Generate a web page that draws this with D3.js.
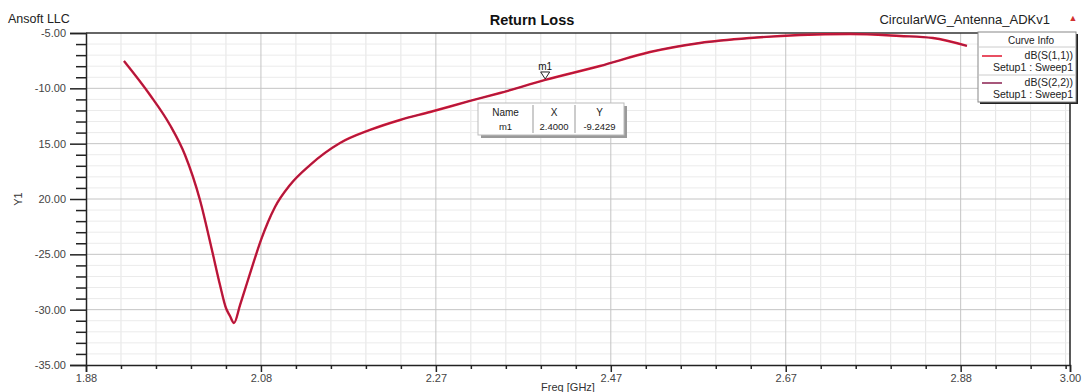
<!DOCTYPE html>
<html>
<head>
<meta charset="utf-8">
<script src="https://cdn.jsdelivr.net/npm/d3@7"></script>
<style>
  html, body { margin: 0; padding: 0; background: #fff; }
  svg { display: block; font-family: "Liberation Sans", Arial, sans-serif; }
</style>
</head>
<body>
<svg id="chart" width="1085" height="392"></svg>
<script>
// Sweep frequencies (GHz) and return loss (dB)
const freqGHz = [1.9184, 1.9482, 1.9710, 1.9882, 2.0053, 2.0190, 2.0282, 2.0350, 2.0396, 2.0442,
  2.0511, 2.0591, 2.0671, 2.0751, 2.0831, 2.0911, 2.1082, 2.1311, 2.1654, 2.1997, 2.2340, 2.2683,
  2.3140, 2.3483, 2.4000, 2.4626, 2.5198, 2.5770, 2.6341, 2.6913, 2.7485, 2.8056, 2.8433, 2.8822];
const s11Db = [-7.53, -10.60, -13.31, -16.02, -20.09, -24.61, -27.77, -29.85, -30.57, -31.20,
  -29.58, -27.59, -25.60, -23.70, -22.08, -20.72, -18.73, -16.93, -14.94, -13.76, -12.86, -12.14,
  -11.14, -10.42, -9.2429, -7.98, -6.72, -5.90, -5.45, -5.18, -5.09, -5.27, -5.45, -6.17];
const s22Db = [-7.53, -10.60, -13.31, -16.02, -20.09, -24.61, -27.77, -29.85, -30.57, -31.20,
  -29.58, -27.59, -25.60, -23.70, -22.08, -20.72, -18.73, -16.93, -14.94, -13.76, -12.86, -12.14,
  -11.14, -10.42, -9.2429, -7.98, -6.72, -5.90, -5.45, -5.18, -5.09, -5.27, -5.45, -6.17];

// Axis ticks
const xTickValues = [1.875, 2.075, 2.275, 2.475, 2.675, 2.875, 3.0];
const xTickLabels = ["1.88", "2.08", "2.27", "2.47", "2.67", "2.88", "3.00"];
const yTickValues = [-5, -10, -15, -20, -25, -30, -35];
const yTickLabels = ["-5.00", "-10.00", "15.00", "20.00", "-25.00", "-30.00", "-35.00"];

// Marker
const markerName = "m1";
const markerX = 2.4;
const markerY = -9.2429;

const seriesNames = ["dB(S(1,1))", "dB(S(2,2))"];
const seriesSetup = ["Setup1 : Sweep1", "Setup1 : Sweep1"];
const seriesColors = ["#e0142e", "#8a1f4f"];

const svg = d3.select("#chart");
const margin = { left: 86, right: 15, top: 33, bottom: 27 };
const W = 1085, H = 392;
const x = d3.scaleLinear().domain([1.875, 3.0]).range([margin.left, W - margin.right]);
const y = d3.scaleLinear().domain([-35, -5]).range([H - margin.bottom, margin.top]);

const x0 = x.range()[0], x1 = x.range()[1];
const y0 = y.range()[0], y1 = y.range()[1];

// Minor tick positions
const xMinor = [];
for (let i = 0; i < xTickValues.length - 1; i++) {
  const a = xTickValues[i], b = xTickValues[i + 1];
  const step = 0.04;
  for (let v = a + step; v < b - 1e-6; v += step) xMinor.push(v);
}
const yMinor = d3.range(-34, -5).filter(v => v % 5 !== 0);

// Grid
const grid = svg.append("g");
grid.selectAll("line.xm").data(xMinor).join("line")
  .attr("x1", d => x(d)).attr("x2", d => x(d)).attr("y1", y1).attr("y2", y0)
  .attr("stroke", "#e4e4e4").attr("stroke-width", 1);
grid.selectAll("line.ym").data(yMinor).join("line")
  .attr("x1", x0).attr("x2", x1).attr("y1", d => y(d)).attr("y2", d => y(d))
  .attr("stroke", "#ebebeb").attr("stroke-width", 1);
grid.selectAll("line.xM").data(xTickValues.slice(1, -1)).join("line")
  .attr("x1", d => x(d)).attr("x2", d => x(d)).attr("y1", y1).attr("y2", y0)
  .attr("stroke", "#c4c4c4").attr("stroke-width", 1);
grid.selectAll("line.yM").data(yTickValues.slice(1, -1)).join("line")
  .attr("x1", x0).attr("x2", x1).attr("y1", d => y(d)).attr("y2", d => y(d))
  .attr("stroke", "#c4c4c4").attr("stroke-width", 1);

// Axes
const xAxis = d3.axisBottom(x).tickValues(xTickValues)
  .tickFormat((d, i) => xTickLabels[i]).tickSize(7).tickPadding(2);
const gx = svg.append("g").attr("transform", `translate(0,${y0})`).call(xAxis);
gx.select(".domain").attr("stroke", "#222").attr("stroke-width", 1.5);
gx.selectAll(".tick line").attr("stroke", "#222").attr("stroke-width", 1.5);
gx.selectAll(".tick text").attr("font-size", 11).attr("fill", "#444")
  .attr("font-family", "'Liberation Sans', Arial, sans-serif");

const xAxisMinor = d3.axisBottom(x).tickValues(xMinor).tickFormat("").tickSize(4);
const gxm = svg.append("g").attr("transform", `translate(0,${y0})`).call(xAxisMinor);
gxm.select(".domain").remove();
gxm.selectAll(".tick line").attr("stroke", "#222").attr("stroke-width", 1.5);

const yAxis = d3.axisLeft(y).tickValues(yTickValues)
  .tickFormat((d, i) => yTickLabels[i]).tickSize(16).tickPadding(4);
const gy = svg.append("g").attr("transform", `translate(${x0},0)`).call(yAxis);
gy.select(".domain").attr("stroke", "#222").attr("stroke-width", 1.5);
gy.selectAll(".tick line").attr("stroke", "#222").attr("stroke-width", 1.5);
gy.selectAll(".tick text").attr("font-size", 11).attr("fill", "#444")
  .attr("font-family", "'Liberation Sans', Arial, sans-serif");

const yAxisMinor = d3.axisLeft(y).tickValues(yMinor).tickFormat("").tickSize(10);
const gym = svg.append("g").attr("transform", `translate(${x0},0)`).call(yAxisMinor);
gym.select(".domain").remove();
gym.selectAll(".tick line").attr("stroke", "#222").attr("stroke-width", 1.5);

// Top and right frame
svg.append("line").attr("x1", x0).attr("x2", x1).attr("y1", y1).attr("y2", y1)
  .attr("stroke", "#333").attr("stroke-width", 1.5);
svg.append("line").attr("x1", x1).attr("x2", x1).attr("y1", y1).attr("y2", y0)
  .attr("stroke", "#222").attr("stroke-width", 1.5);

// Curves
const line = d3.line().curve(d3.curveMonotoneX);
const s11Pts = freqGHz.map((f, i) => [x(f), y(s11Db[i])]);
const s22Pts = freqGHz.map((f, i) => [x(f), y(s22Db[i])]);
svg.append("path").attr("d", line(s11Pts)).attr("fill", "none")
  .attr("stroke", seriesColors[0]).attr("stroke-width", 2.4).attr("stroke-linejoin", "round");
svg.append("path").attr("d", line(s22Pts)).attr("fill", "none")
  .attr("stroke", seriesColors[1]).attr("stroke-width", 1.2).attr("stroke-opacity", 0.75)
  .attr("stroke-linejoin", "round");

// Marker triangle and label
const mx = x(markerX), my = y(markerY);
svg.append("path")
  .attr("d", `M${mx - 4.5},${my - 8} L${mx + 4.5},${my - 8} L${mx},${my - 1} Z`)
  .attr("fill", "#fff").attr("stroke", "#222").attr("stroke-width", 1);
svg.append("text").attr("x", mx).attr("y", my - 10).attr("text-anchor", "middle")
  .attr("font-size", 10).attr("fill", "#111").text(markerName);

// Marker table
const tb = { x: 478, y: 103, w: 146, h: 32 };
svg.append("rect").attr("x", tb.x + 3).attr("y", tb.y + 3).attr("width", tb.w).attr("height", tb.h)
  .attr("fill", "#9a9a9a");
svg.append("rect").attr("x", tb.x).attr("y", tb.y).attr("width", tb.w).attr("height", tb.h)
  .attr("fill", "#fff").attr("stroke", "#bbb").attr("stroke-width", 1);
const cols = [tb.x, 533, 575, tb.x + tb.w];
[cols[1], cols[2]].forEach(cx => {
  svg.append("line").attr("x1", cx).attr("x2", cx).attr("y1", tb.y + 2).attr("y2", tb.y + tb.h - 2)
    .attr("stroke", "#999").attr("stroke-width", 1);
});
const headers = ["Name", "X", "Y"];
const rowVals = [markerName, markerX.toFixed(4), markerY.toFixed(4)];
headers.forEach((h, i) => {
  const cx = (cols[i] + cols[i + 1]) / 2;
  svg.append("text").attr("x", cx).attr("y", tb.y + 13).attr("text-anchor", "middle")
    .attr("font-size", 10).attr("fill", "#222").text(h);
  svg.append("text").attr("x", cx).attr("y", tb.y + 27).attr("text-anchor", "middle")
    .attr("font-size", 9.5).attr("fill", "#222").text(rowVals[i]);
});

// Legend box
const lg = { x: 978, y: 32, w: 98, h: 70 };
svg.append("rect").attr("x", lg.x + 2).attr("y", lg.y + 2).attr("width", lg.w).attr("height", lg.h)
  .attr("fill", "#222");
svg.append("rect").attr("x", lg.x).attr("y", lg.y).attr("width", lg.w).attr("height", lg.h)
  .attr("fill", "#fff").attr("stroke", "#888").attr("stroke-width", 1);
svg.append("text").attr("x", lg.x + lg.w / 2 + 4).attr("y", lg.y + 12).attr("text-anchor", "middle")
  .attr("font-size", 10).attr("fill", "#222").text("Curve Info");
svg.append("line").attr("x1", lg.x + 1).attr("x2", lg.x + lg.w - 1).attr("y1", lg.y + 15).attr("y2", lg.y + 15)
  .attr("stroke", "#ccc");
seriesNames.forEach((name, i) => {
  const top = lg.y + 15 + i * 27;
  svg.append("line").attr("x1", lg.x + 4).attr("x2", lg.x + 24)
    .attr("y1", top + 9).attr("y2", top + 9).attr("stroke", seriesColors[i]).attr("stroke-width", 1.5);
  svg.append("text").attr("x", lg.x + lg.w - 3).attr("y", top + 12).attr("text-anchor", "end")
    .attr("font-size", 10.5).attr("fill", "#222").text(name);
  svg.append("text").attr("x", lg.x + lg.w - 3).attr("y", top + 24).attr("text-anchor", "end")
    .attr("font-size", 10.5).attr("fill", "#222").text(seriesSetup[i]);
  if (i === 0) {
    svg.append("line").attr("x1", lg.x + 1).attr("x2", lg.x + lg.w - 1)
      .attr("y1", top + 28).attr("y2", top + 28).attr("stroke", "#ccc");
  }
});

// Titles
svg.append("text").attr("x", 8).attr("y", 23).attr("font-size", 12.5).attr("fill", "#222").text("Ansoft LLC");
svg.append("text").attr("x", 532).attr("y", 25).attr("text-anchor", "middle")
  .attr("font-size", 14.5).attr("font-weight", "bold").attr("fill", "#111").text("Return Loss");
svg.append("text").attr("x", 1050).attr("y", 24).attr("text-anchor", "end")
  .attr("font-size", 13).attr("fill", "#222").text("CircularWG_Antenna_ADKv1");
svg.append("text").attr("x", 1073).attr("y", 21).attr("text-anchor", "middle")
  .attr("font-size", 9).attr("fill", "#d23030").text("▲");

// Axis titles
svg.append("text").attr("transform", `translate(22,${(y0 + y1) / 2}) rotate(-90)`)
  .attr("text-anchor", "middle").attr("font-size", 11).attr("fill", "#333").text("Y1");
svg.append("text").attr("x", 568).attr("y", 391).attr("text-anchor", "middle")
  .attr("font-size", 11).attr("fill", "#333").text("Freq [GHz]");
</script>
</body>
</html>
